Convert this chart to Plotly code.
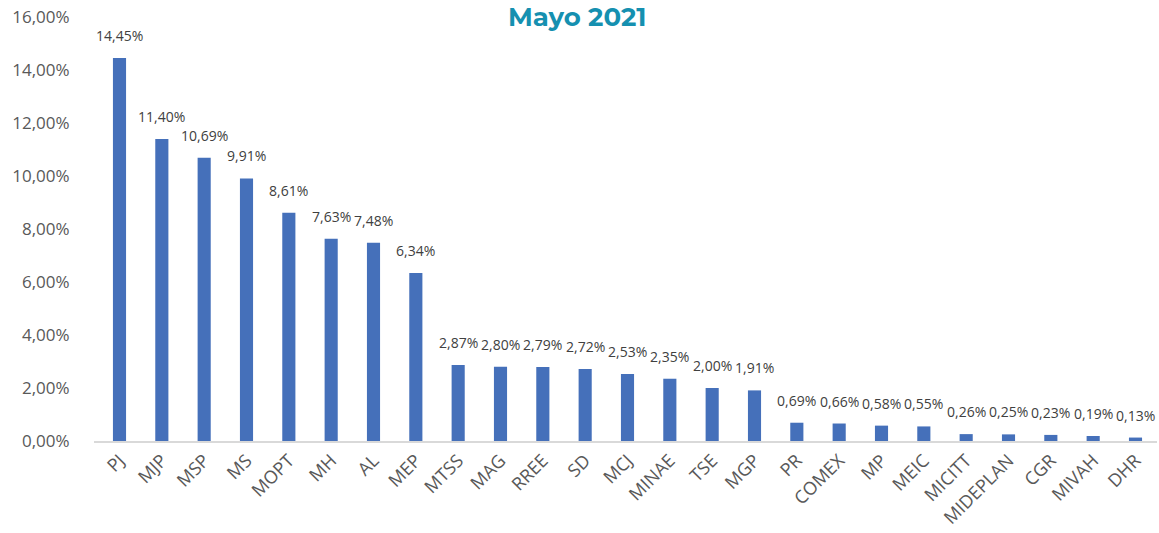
import plotly.graph_objects as go

categories = ["PJ", "MJP", "MSP", "MS", "MOPT", "MH", "AL", "MEP", "MTSS", "MAG", "RREE", "SD",
              "MCJ", "MINAE", "TSE", "MGP", "PR", "COMEX", "MP", "MEIC", "MICITT", "MIDEPLAN",
              "CGR", "MIVAH", "DHR"]
values_pct = [14.45, 11.40, 10.69, 9.91, 8.61, 7.63, 7.48, 6.34, 2.87, 2.80, 2.79, 2.72,
              2.53, 2.35, 2.00, 1.91, 0.69, 0.66, 0.58, 0.55, 0.26, 0.25, 0.23, 0.19, 0.13]
y_ticks = [0, 0.02, 0.04, 0.06, 0.08, 0.10, 0.12, 0.14, 0.16]

vals = [v / 100 for v in values_pct]

fig = go.Figure()
fig.add_trace(go.Bar(x=categories, y=vals, marker=dict(color="#4570BA", line=dict(width=0)),
                     hoverinfo="x+y"))

for c, v, p in zip(categories, vals, values_pct):
    fig.add_annotation(x=c, y=v, text=f"{p:.2f}%".replace(".", ","), showarrow=False,
                       yanchor="bottom", yshift=11,
                       font=dict(family="Open Sans", size=14, color="#404040"))

fig.update_layout(
    width=1159, height=533,
    margin=dict(l=94, r=2, t=17, b=92, autoexpand=False),
    paper_bgcolor="white", plot_bgcolor="white",
    separators=",.",
    bargap=0.69,
    showlegend=False,
    title=dict(text="<b>Mayo 2021</b>", x=0.498, xanchor="center", y=0.968, yanchor="middle",
               font=dict(family="Montserrat, Open Sans", size=26, color="#1590B0")),
    xaxis=dict(showgrid=False, showline=True, linecolor="#D9D9D9", linewidth=2, automargin=False,
               tickangle=-45, ticks="", ticklen=0,
               tickfont=dict(family="Open Sans", size=18, color="#595959")),
    yaxis=dict(range=[0, 0.16], tickvals=y_ticks, tickformat=".2%", showgrid=False, automargin=False,
               zeroline=False, showline=False, ticks="outside", ticklen=20, tickcolor="rgba(0,0,0,0)",
               tickfont=dict(family="Open Sans", size=17, color="#595959")),
)

fig.write_html("out.html", config={"displayModeBar": False},
               post_script="document.body.style.margin='0';")
